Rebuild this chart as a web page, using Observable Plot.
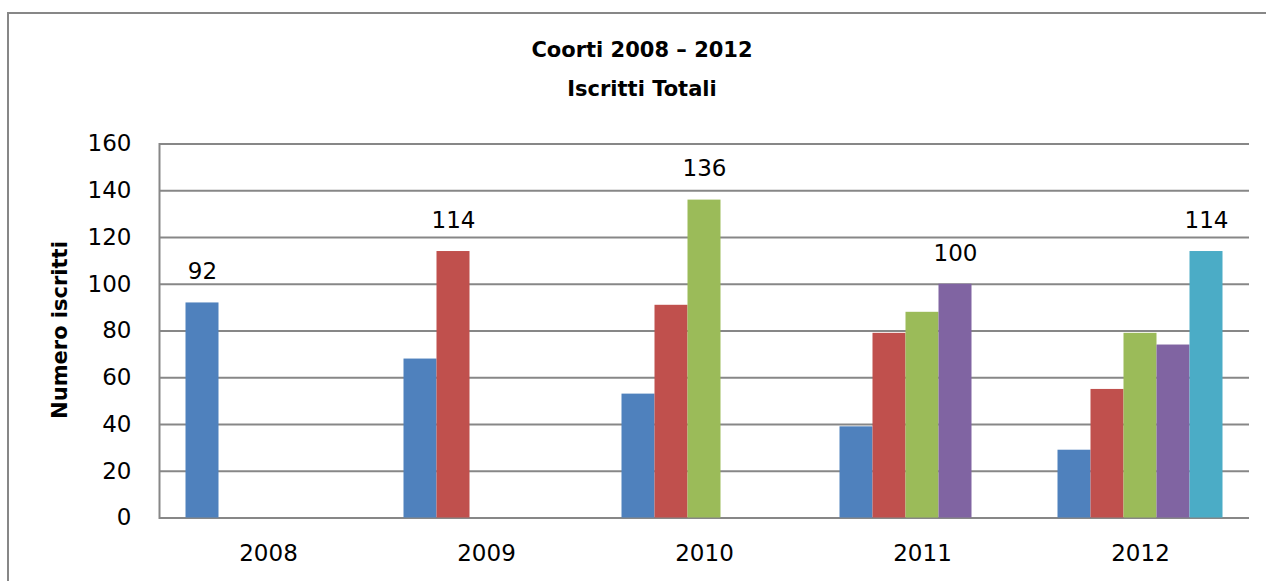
<!DOCTYPE html>
<html>
<head>
<meta charset="utf-8">
<script src="https://cdn.jsdelivr.net/npm/d3@7"></script>
<script src="https://cdn.jsdelivr.net/npm/@observablehq/plot@0.6"></script>
<style>
  html, body { margin: 0; padding: 0; background: #fff; }
  #wrap { position: relative; width: 1266px; height: 581px; overflow: hidden; background: #fff; font-family: "DejaVu Sans", sans-serif; }
  #frame { position: absolute; left: 7px; top: 12px; width: 1300px; height: 620px; border: 2px solid #878787; box-sizing: border-box; }
  #title { position: absolute; left: 0; top: 31px; width: 1284px; text-align: center; font-weight: bold; font-size: 21px; line-height: 39px; color: #000; }
  #ylabel { position: absolute; left: -90px; top: 315px; width: 300px; height: 30px; line-height: 30px; text-align: center; font-weight: bold; font-size: 21px; color: #000; transform: rotate(-90deg); }
  #chart { position: absolute; left: 0; top: 0; }
</style>
</head>
<body>
<div id="wrap">
  <div id="frame"></div>
  <div id="chart"></div>
  <div id="title">Coorti 2008 – 2012<br>Iscritti Totali</div>
  <div id="ylabel">Numero iscritti</div>
</div>
<script>
// Years of enrolment (x groups) and cohorts (series)
const years = ["2008", "2009", "2010", "2011", "2012"];
const cohorts = ["2008", "2009", "2010", "2011", "2012"];

// Number of enrolled students per cohort, by year
const coorte2008 = [92, 68, 53, 39, 29];
const coorte2009 = [null, 114, 91, 79, 55];
const coorte2010 = [null, null, 136, 88, 79];
const coorte2011 = [null, null, null, 100, 74];
const coorte2012 = [null, null, null, null, 114];

const seriesColors = ["#4F81BD", "#C0504D", "#9BBB59", "#8064A2", "#4BACC6"];
const yTicks = [0, 20, 40, 60, 80, 100, 120, 140, 160];

const seriesValues = [coorte2008, coorte2009, coorte2010, coorte2011, coorte2012];
const rows = [];
cohorts.forEach((c, i) => {
  years.forEach((y, j) => {
    const v = seriesValues[i][j];
    if (v != null) rows.push({year: y, cohort: c, value: v});
  });
});
const labelRows = rows.filter(d => d.cohort === d.year);

const chart = Plot.plot({
  width: 1266,
  height: 581,
  marginLeft: 158.5,
  marginRight: 17.5,
  marginTop: 143.5,
  marginBottom: 63.5,
  style: {fontFamily: "DejaVu Sans, sans-serif", fontSize: "23px", color: "#000", background: "transparent", overflow: "visible"},
  fx: {domain: years, padding: 0, label: null, tickSize: 0, tickPadding: 27, axis: "bottom"},
  x: {domain: cohorts, paddingInner: 0, paddingOuter: 0.8, axis: null},
  y: {domain: [0, 160], ticks: yTicks, label: null},
  color: {domain: cohorts, range: seriesColors},
  marks: [
    Plot.gridY(yTicks, {stroke: "#878787", strokeWidth: 2, strokeOpacity: 1}),
    Plot.frame({anchor: "left", facetAnchor: "left", stroke: "#878787", strokeWidth: 2}),
    Plot.axisY(yTicks, {tickSize: 0, tickPadding: 28, fill: "#000", label: null}),
    Plot.barY(rows, {fx: "year", x: "cohort", y: "value", fill: "cohort"}),
    Plot.text(labelRows, {fx: "year", x: "cohort", y: "value", text: d => String(d.value), dy: -31, fill: "#000", fontSize: 23})
  ]
});
document.getElementById("chart").appendChild(chart);
</script>
</body>
</html>
